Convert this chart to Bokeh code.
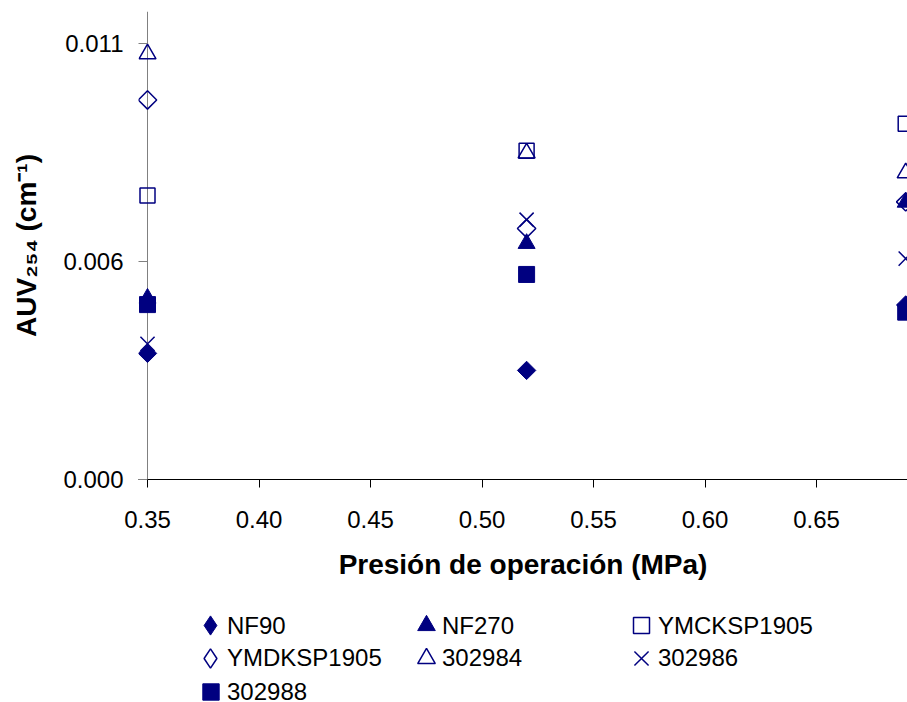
import math
from bokeh.plotting import figure
from bokeh.layouts import column
from bokeh.models import Range1d, FixedTicker, Legend, LegendItem, Span
from bokeh.embed import file_html
from bokeh.resources import INLINE

# ---- data ----
pressure = [0.35, 0.52, 0.69]
nf90 = [0.00318, 0.00275, 0.00440]
nf270 = [0.00457, 0.00595, 0.00699]
ymcksp1905 = [0.00716, 0.00829, 0.00897]
ymdksp1905 = [0.00957, 0.00633, 0.00700]
s302984 = [0.01073, 0.00823, 0.00773]
s302986 = [0.00342, 0.00655, 0.00557]
s302988 = [0.00441, 0.00517, 0.00422]

series_names = ["NF90", "NF270", "YMCKSP1905", "YMDKSP1905", "302984", "302986", "302988"]

x_ticks = [0.35, 0.40, 0.45, 0.50, 0.55, 0.60, 0.65]
x_tick_labels = ["0.35", "0.40", "0.45", "0.50", "0.55", "0.60", "0.65"]
y_ticks = [0.0, 0.0055, 0.011]
y_tick_labels = ["0.000", "0.006", "0.011"]

NAVY = "#000080"
FONT = "Liberation Sans"
FRAME_LEFT = 138

p = figure(width=907, height=600, output_backend="svg", toolbar_location=None,
           x_range=Range1d(0.345964, 0.690807), y_range=Range1d(0.0, 0.0118),
           min_border_left=FRAME_LEFT, min_border_right=0, min_border_top=11, min_border_bottom=121)
p.outline_line_color = None
p.grid.visible = False
p.background_fill_color = "white"
p.border_fill_color = "white"

# x axis
xa = p.xaxis[0]
xa.ticker = FixedTicker(ticks=x_ticks)
xa.major_label_overrides = {t: l for t, l in zip(x_ticks, x_tick_labels)}
xa.axis_line_color = "black"
xa.major_tick_line_color = "black"
xa.major_tick_out = 8
xa.major_tick_in = 0
xa.minor_tick_line_color = None
xa.major_label_text_font = FONT
xa.major_label_text_font_size = "24px"
xa.major_label_text_color = "black"
xa.major_label_standoff = 23
xa.axis_label = "Presión de operación (MPa)"
xa.axis_label_text_font = FONT
xa.axis_label_text_font_style = "bold"
xa.axis_label_text_font_size = "28px"
xa.axis_label_text_color = "black"
xa.axis_label_standoff = 18

# y axis (frame edge sits at the tick ends; the axis line crosses at the first x tick)
ya = p.yaxis[0]
ya.ticker = FixedTicker(ticks=y_ticks)
ya.major_label_overrides = {t: l for t, l in zip(y_ticks, y_tick_labels)}
ya.axis_line_color = None
ya.major_tick_line_color = "#808080"
ya.major_tick_out = 0
ya.major_tick_in = 9
ya.minor_tick_line_color = None
ya.major_label_text_font = FONT
ya.major_label_text_font_size = "24px"
ya.major_label_text_color = "black"
ya.major_label_standoff = 15
ya.axis_label = "AUV₂₅₄ (cm⁻¹)"
ya.axis_label_text_font = FONT
ya.axis_label_text_font_style = "bold"
ya.axis_label_text_font_size = "28px"
ya.axis_label_text_color = "black"
ya.axis_label_standoff = 18

yline = Span(location=x_ticks[0], dimension="height", line_color="#808080", line_width=1, level="underlay")
p.add_layout(yline)

# series styles (chart)
specs = [
    dict(marker="square", angle=math.pi / 4, size=13, fill_color=NAVY, line_color=NAVY, line_width=1),
    dict(marker="triangle", size=17, fill_color=NAVY, line_color=NAVY, line_width=1),
    dict(marker="square", size=15, fill_color=None, line_color=NAVY, line_width=1.5),
    dict(marker="square", angle=math.pi / 4, size=13, fill_color=None, line_color=NAVY, line_width=1.5),
    dict(marker="triangle", size=17, fill_color=None, line_color=NAVY, line_width=1.5),
    dict(marker="x", size=20, line_color=NAVY, line_width=1.5),
    dict(marker="square", size=16, fill_color=NAVY, line_color=NAVY, line_width=1),
]
series_values = [nf90, nf270, ymcksp1905, ymdksp1905, s302984, s302986, s302988]

for vals, kw in zip(series_values, specs):
    p.scatter(pressure, vals, **kw)

# legend key styles (legend keys are drawn unrotated, so diamonds use the diamond marker)
key_specs = [
    dict(marker="diamond", size=19, fill_color=NAVY, line_color=NAVY, line_width=1),
    dict(marker="triangle", size=17.6, fill_color=NAVY, line_color=NAVY, line_width=1),
    dict(marker="square", size=16, fill_color=None, line_color=NAVY, line_width=1.5),
    dict(marker="diamond", size=19, fill_color=None, line_color=NAVY, line_width=1.5),
    dict(marker="triangle", size=17.6, fill_color=None, line_color=NAVY, line_width=1.5),
    dict(marker="x", size=20, line_color=NAVY, line_width=1.5),
    dict(marker="square", size=16.4, fill_color=NAVY, line_color=NAVY, line_width=1),
]

# ---- legend panel (a second, axis-less figure under the chart) ----
# its ranges keep the key renderers' own points out of view; only the legend keys show
LH = 102
pl = figure(width=907, height=LH, output_backend="svg", toolbar_location=None,
            x_axis_location=None, y_axis_location=None,
            x_range=Range1d(10, 11), y_range=Range1d(10, 11),
            min_border=0, min_border_left=FRAME_LEFT, min_border_right=0,
            min_border_top=0, min_border_bottom=0)
pl.outline_line_color = None
pl.grid.visible = False
pl.background_fill_color = "white"
pl.border_fill_color = "white"

common = dict(padding=0, margin=0, spacing=0, border_line_color=None, background_fill_alpha=0,
              label_text_font=FONT, label_text_font_size="24px", label_text_color="black")

for i, (name, vals, kw) in enumerate(zip(series_names, series_values, key_specs)):
    g = int(round(kw["size"] / 0.4))
    kw = {k: v for k, v in kw.items() if k != "size"}
    key = pl.scatter(pressure, vals, size=g * 0.4, **kw)
    blank = pl.scatter(pressure, vals, size=1, marker="dot", fill_alpha=0, line_alpha=0)
    col, row = i % 3, i // 3
    cx = 210 + col * 215.5
    cy = 25 + row * 33
    # marker key
    leg_key = Legend(items=[LegendItem(label=" ", renderers=[key])],
                     location=(int(round(cx - g / 2 - FRAME_LEFT)), int(round(LH - (cy + g / 2)))),
                     glyph_width=g, glyph_height=g, label_standoff=0, **common)
    pl.add_layout(leg_key)
    # label text, starting just right of the key
    lh = 24
    ty = cy + 2.5
    leg_txt = Legend(items=[LegendItem(label=name, renderers=[blank])],
                     location=(int(round(cx + 16.7 - FRAME_LEFT)), int(round(LH - (ty + lh / 2)))),
                     glyph_width=0, glyph_height=lh, label_height=lh, label_standoff=0, **common)
    pl.add_layout(leg_txt)

layout = column(p, pl, spacing=0)
open("out.html", "w").write(file_html(layout, INLINE))
